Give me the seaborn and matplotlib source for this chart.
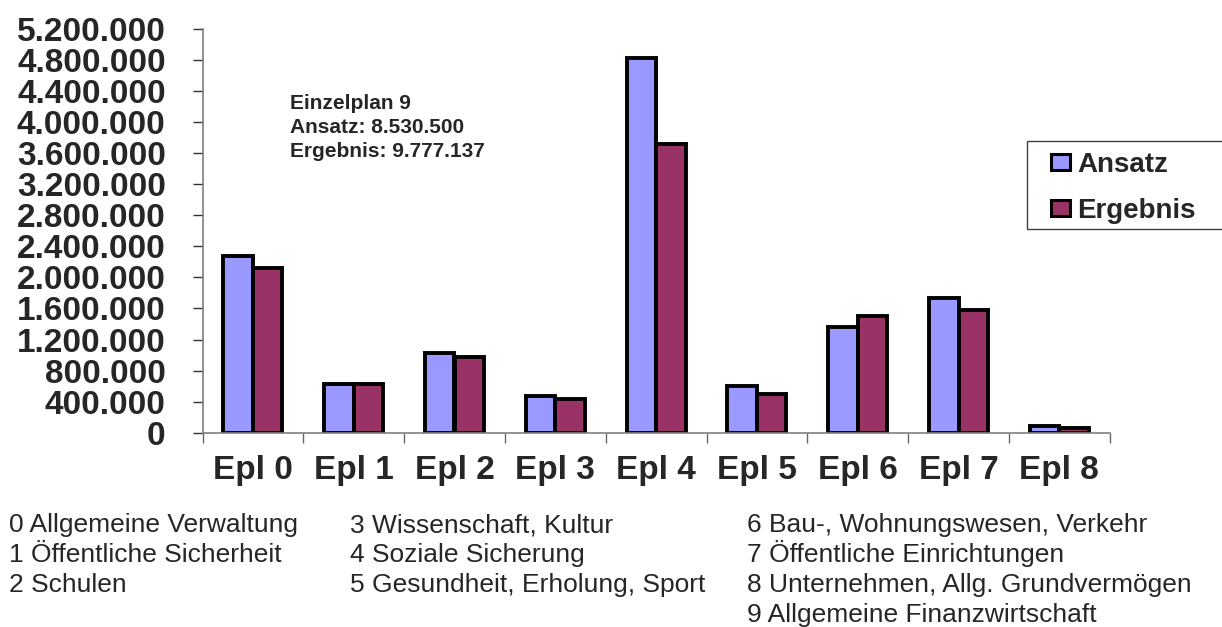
import matplotlib
matplotlib.use('Agg')
import matplotlib.pyplot as plt
import seaborn as sns
import pandas as pd
from matplotlib.ticker import FuncFormatter, MultipleLocator, FixedLocator
from matplotlib.patches import Rectangle

# values
categories = ['Epl 0', 'Epl 1', 'Epl 2', 'Epl 3', 'Epl 4', 'Epl 5', 'Epl 6', 'Epl 7', 'Epl 8']
ansatz = [2270000, 628000, 1024000, 473000, 4826000, 602000, 1360000, 1729000, 86000]
ergebnis = [2116000, 628000, 973000, 431000, 3725000, 499000, 1506000, 1583000, 60000]
series_names = ['Ansatz', 'Ergebnis']
colors = ['#9999FF', '#993366']

info_lines = ['Einzelplan 9', 'Ansatz: 8.530.500', 'Ergebnis: 9.777.137']
notes_col1 = ['0 Allgemeine Verwaltung', '1 Öffentliche Sicherheit', '2 Schulen']
notes_col2 = ['3 Wissenschaft, Kultur', '4 Soziale Sicherung', '5 Gesundheit, Erholung, Sport']
notes_col3 = ['6 Bau-, Wohnungswesen, Verkehr', '7 Öffentliche Einrichtungen',
              '8 Unternehmen, Allg. Grundvermögen', '9 Allgemeine Finanzwirtschaft']

df = pd.DataFrame({
    'Epl': categories * 2,
    'Betrag': ansatz + ergebnis,
    'Serie': [series_names[0]] * len(categories) + [series_names[1]] * len(categories),
})

sns.set_style('white')
plt.rcParams['font.family'] = ['Liberation Sans', 'DejaVu Sans']

W, H = 1222, 627
fig = plt.figure(figsize=(W / 100, H / 100), dpi=100)
ax = fig.add_axes([202.5 / W, 1 - 432.7 / H, (1109.7 - 202.5) / W, (432.7 - 29) / H])

sns.barplot(data=df, x='Epl', y='Betrag', hue='Serie', palette=colors,
            width=0.585, gap=0, edgecolor='black', linewidth=2.8,
            saturation=1, ax=ax, legend=True)

ax.set_xlim(-0.5, len(categories) - 0.5)
ax.set_ylim(0, 5200000)
ax.set_xlabel('')
ax.set_ylabel('')

ax.yaxis.set_major_locator(MultipleLocator(400000))
ax.yaxis.set_major_formatter(FuncFormatter(lambda v, p: f'{int(round(v)):,}'.replace(',', '.')))
ax.tick_params(axis='y', which='major', left=True, length=7.5, width=1, color='#333333',
               labelsize=24, pad=19)
for lab in ax.get_yticklabels():
    lab.set_fontweight('bold')

# category boundaries carry the tick marks, labels sit at the centres
ax.xaxis.set_minor_locator(FixedLocator([i - 0.5 for i in range(len(categories) + 1)]))
ax.tick_params(axis='x', which='minor', bottom=True, length=7.5, width=1, color='#666666')
ax.tick_params(axis='x', which='major', bottom=False, length=0, labelsize=24, pad=16)
for lab in ax.get_xticklabels():
    lab.set_fontweight('bold')

for side in ['top', 'right']:
    ax.spines[side].set_visible(False)
for side in ['left', 'bottom']:
    ax.spines[side].set_color('#808080')
    ax.spines[side].set_linewidth(1.2)

# legend
handles, labels = ax.get_legend_handles_labels()
for h in handles:
    h.set_linewidth(2.2)
ax.legend(handles, labels, loc='upper left',
          bbox_to_anchor=(1045 / W, 1 - 146 / H), bbox_transform=fig.transFigure,
          frameon=False, prop={'weight': 'bold', 'size': 20},
          handlelength=0.7, handleheight=0.5, handletextpad=0.25,
          labelspacing=0.72, borderpad=0.2, borderaxespad=0)
fig.patches.append(Rectangle((1027 / W, 1 - 229 / H), 220 / W, 88 / H,
                             transform=fig.transFigure, fill=False,
                             edgecolor='#404040', linewidth=1))

# info box text
for i, line in enumerate(info_lines):
    fig.text(290 / W, 1 - (109 + 24 * i) / H, line, fontsize=15, fontweight='bold',
             va='baseline', ha='left')

# explanation notes below the chart
for x0, col in [(9, notes_col1), (350, notes_col2), (747, notes_col3)]:
    for i, line in enumerate(col):
        fig.text(x0 / W, 1 - (532 + 30 * i) / H, line, fontsize=19,
                 va='baseline', ha='left')

fig.savefig('out.png', dpi=100)
